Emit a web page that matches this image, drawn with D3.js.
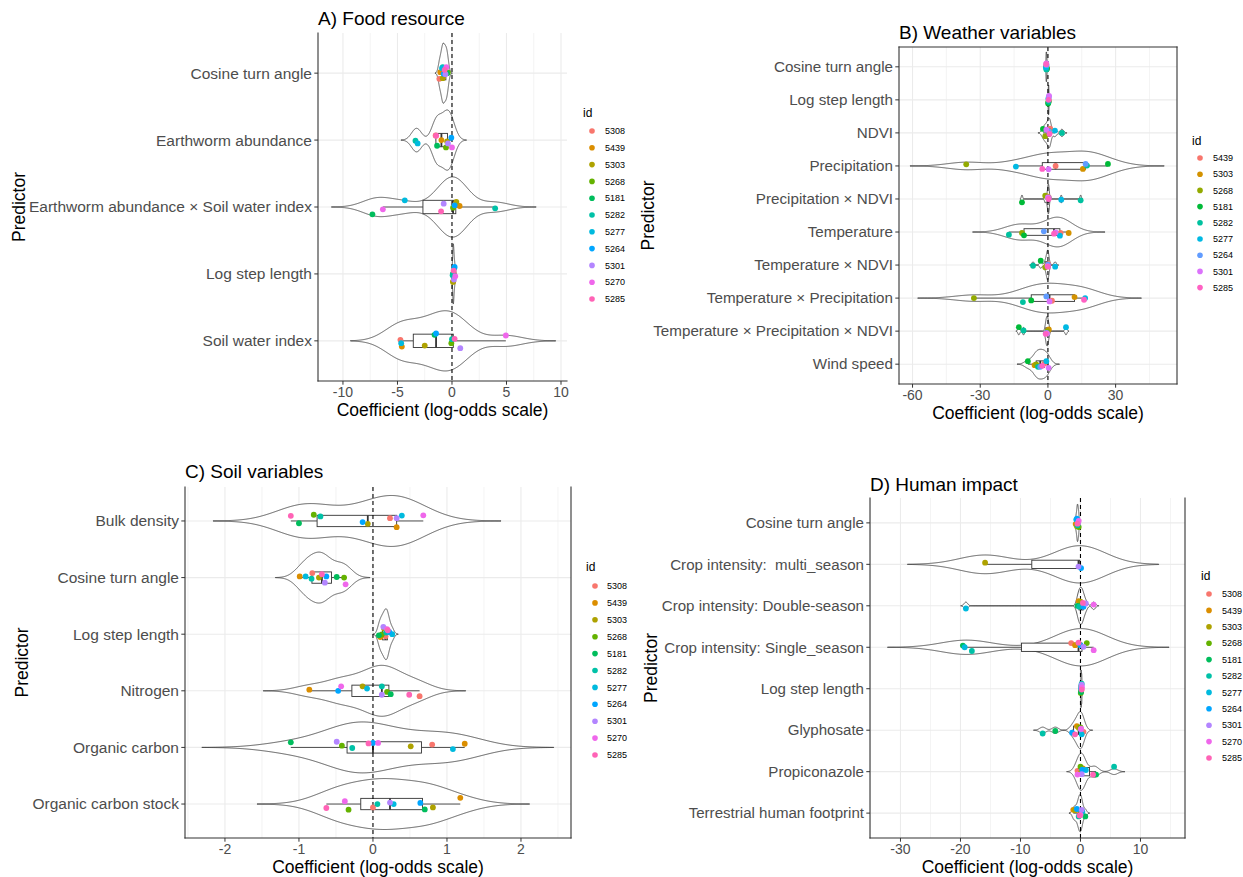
<!DOCTYPE html>
<html><head><meta charset="utf-8">
<script src="https://cdn.jsdelivr.net/npm/d3@7"></script>
<style>
body{margin:0;background:#fff}
svg{display:block}
text{font-family:"Liberation Sans",Arial,Helvetica,sans-serif;white-space:pre}
</style>
</head><body>
<svg id="c" width="1243" height="877"></svg>
<script>
// ================= DATA =================
const idsAll = ["5308","5439","5303","5268","5181","5282","5277","5264","5301","5270","5285"];
const idsB   = ["5439","5303","5268","5181","5282","5277","5264","5301","5285"];
const colors11 = ["#F8766D","#DB8E00","#AEA200","#64B200","#00BD5C","#00C1A7","#00BADE","#00A6FF","#B385FF","#EF67EB","#FF63B6"];
const colors9  = ["#F8766D","#D39200","#93AA00","#00BA38","#00C19F","#00B9E3","#619CFF","#DB72FB","#FF61C3"];

// ---- A) Food resource (columns follow idsAll) ----
const predictorsA = ["Cosine turn angle","Earthworm abundance","Earthworm abundance × Soil water index","Log step length","Soil water index"];
const valuesA = [
  [-1.16,-1.07,-0.85,-0.37,-0.46,-0.85,-0.91,-0.76,-0.60,-0.52,-0.67],
  [-1.50,-0.97,-0.45,-0.55,-1.37,-3.35,-3.15,-0.06,-0.37, 0.00,-1.45],
  [ 0.30, 0.70, 0.40, 0.10,-7.30, 3.96,-4.33, 0.24,-0.76,-6.34,-1.00],
  [ 0.15, 0.12, 0.09, 0.12, 0.09, 0.06, 0.21, 0.24, 0.18, 0.30, 0.15],
  [-4.73,-4.60,-2.50,-0.06,-1.60, 0.00,-4.66,-1.46, 0.76, 4.94, 0.24]
];
const jitterA = [
  [0.085,-0.015,0.075,-0.01,0,-0.09,-0.075,0.01,0.015,-0.09,-0.05],
  [-0.07,0,0.02,0.11,0.085,0.01,0.05,-0.035,0.05,0.11,-0.065],
  [-0.04,-0.015,-0.075,0.01,0.11,0.02,-0.1,-0.025,-0.05,0.035,0.065],
  [-0.015,0.11,0.12,0.01,0,0.02,-0.09,-0.105,0.085,0.035,-0.05],
  [-0.015,0.085,0.07,0.035,-0.09,-0.025,0.035,-0.11,0.11,-0.08,-0.03]
];
const xTicksA = [-10,-5,0,5,10];

// ---- B) Weather variables (columns follow idsB) ----
const predictorsB = ["Cosine turn angle","Log step length","NDVI","Precipitation","Precipitation × NDVI","Temperature","Temperature × NDVI","Temperature × Precipitation","Temperature × Precipitation × NDVI","Wind speed"];
const valuesB = [
  [-0.6,-0.8,-0.5,-0.4,-0.7,-0.9,-0.6,-0.7,-0.8],
  [0.4,0.3,0.2,0.1,0.3,0.2,0.4,0.5,0.3],
  [1.0,0.4,-1.2,-2.2,6.2,3.1,0.4,-0.7,0.7],
  [3.4,15.5,-36.2,26.6,17.3,-14.2,16.7,0.3,-2.5],
  [0.4,-0.3,-1.2,-11.5,14.5,5.9,0.3,0.0,0.3],
  [5.6,9.2,-11.5,-10.6,-17.3,5.3,-1.8,3.4,2.7],
  [0.2,-0.5,-1.2,-3.2,-6.6,3.2,0.0,-0.2,0.0],
  [1.8,11.8,-32.8,-7.4,-11.1,16.5,-0.7,0.7,16.0],
  [0.0,0.4,-0.3,-12.9,-10.8,8.0,-0.7,-0.4,-1.0],
  [-1.5,-5.9,-5.2,-8.9,-4.4,-0.7,-3.4,0.3,-2.5]
];
const jitterB = [
  [0.05,-0.02,0.03,0.06,0.08,0.02,-0.05,-0.1,-0.08],
  [0.02,0.05,0.08,0.11,0.06,-0.04,-0.1,-0.12,0.0],
  [-0.13,-0.07,0.1,-0.12,0,-0.07,-0.05,-0.1,0.03],
  [0,0.09,-0.05,-0.06,-0.01,0.02,-0.06,0.1,0.09],
  [-0.05,-0.08,-0.1,0.1,0.04,0.02,-0.03,-0.05,0],
  [0.03,0.03,0.03,0.1,0.08,0.11,-0.02,0.01,0.05],
  [-0.03,0.02,0.07,-0.13,0.02,0.05,-0.01,0.03,0.05],
  [0.08,-0.03,0,0.07,0.12,0,-0.05,0.1,0.05],
  [-0.02,-0.05,0,-0.12,-0.02,-0.12,0.05,0.07,0.08],
  [-0.02,0.03,0.01,-0.09,0.08,-0.09,0.08,0.11,0.05]
];
const xTicksB = [-60,-30,0,30];

// ---- C) Soil variables (columns follow idsAll) ----
const predictorsC = ["Bulk density","Cosine turn angle","Log step length","Nitrogen","Organic carbon","Organic carbon stock"];
const valuesC = [
  [0.23,0.32,-0.07,-0.80,-1.00,-0.71,0.39,-0.14,0.32,0.68,-1.11],
  [-0.82,-0.99,-0.73,-0.39,-0.49,-0.83,-0.91,-0.63,-0.65,-0.37,-0.69],
  [0.17,0.10,0.15,0.12,0.08,0.18,0.26,0.22,0.14,0.19,0.20],
  [0.63,-0.86,-0.14,0.19,0.24,0.12,-0.08,-0.47,0.12,-0.43,0.49],
  [0.80,1.24,0.51,-0.42,-1.11,-0.28,1.08,0.00,-0.49,0.07,-0.06],
  [0.00,1.18,0.81,-0.33,0.70,0.06,0.28,0.64,0.23,-0.38,-0.63]
];
const jitterC = [
  [-0.05,0.11,0.05,-0.11,0.04,-0.08,-0.095,0.02,-0.05,-0.1,-0.09],
  [-0.08,-0.02,0,0,-0.01,0.02,-0.02,-0.02,0.09,0.12,-0.06],
  [0.035,0.05,-0.1,0.005,0.02,-0.03,0,-0.04,-0.13,-0.09,-0.07],
  [0.095,-0.02,-0.08,0.02,0.06,-0.08,-0.04,0,0.07,-0.08,0.07],
  [-0.05,-0.065,-0.02,-0.03,-0.09,0.01,0.03,-0.08,-0.1,-0.08,-0.07],
  [0.06,-0.11,0.06,0.1,0.095,0,0,-0.02,-0.025,-0.05,0.07]
];
const xTicksC = [-2,-1,0,1,2];

// ---- D) Human impact (columns follow idsAll; null = no estimate) ----
const predictorsD = ["Cosine turn angle","Crop intensity:  multi_season","Crop intensity: Double-season","Crop intensity: Single_season","Log step length","Glyphosate","Propiconazole","Terrestrial human footprint"];
const valuesD = [
  [-0.5,-0.8,-0.6,-0.3,-0.4,-0.5,-0.7,-0.6,-0.4,-0.3,-0.5],
  [null,null,-15.9,null,null,null,null,0.1,-0.33,null,null],
  [0.1,-0.3,0.0,0.2,-0.5,-0.2,-19.1,0.5,0.9,2.2,0.4],
  [-1.55,-0.9,-0.2,1.05,-19.6,-18.1,-19.3,0.0,0.5,2.2,-0.33],
  [0.1,0.15,0.1,0.05,0.1,0.2,0.15,0.1,0.2,0.25,0.2],
  [0.5,-0.6,-0.3,0.0,-4.2,-6.3,0.2,-1.4,0.05,0.1,-0.9],
  [-0.5,0.4,0.1,0.0,2.6,5.6,0.9,0.3,0.2,-0.5,2.1],
  [-0.3,-1.2,-0.9,0.05,0.8,-0.3,0.3,-0.6,0.2,0.0,-0.15]
];
const jitterD = [
  [0.05,0.03,0.08,0.1,-0.02,0.06,-0.08,-0.1,0,-0.05,0.02],
  [0,0,-0.04,0,0,0,0,0.09,0.055,0,0],
  [-0.08,-0.11,-0.1,-0.03,0,0.02,0.065,0.02,-0.055,-0.03,-0.07],
  [-0.1,-0.05,-0.07,-0.1,-0.04,0.09,0,-0.05,-0.01,0.07,-0.11],
  [-0.05,0.03,0.06,0.1,0.08,-0.12,-0.08,0,-0.1,-0.03,0.02],
  [0.04,-0.1,-0.06,-0.07,0.02,0.08,0.1,0.06,-0.02,-0.04,0.1],
  [-0.02,-0.08,0.02,-0.12,0.07,-0.12,-0.04,-0.05,0.06,0.07,0.07],
  [-0.06,-0.08,-0.07,0,0.08,0.08,-0.04,-0.1,-0.08,0.04,0.06]
];
const xTicksD = [-30,-20,-10,0,10];

// ================= LAYOUT =================
const panels = [
  {title:"A) Food resource", predictors:predictorsA, ids:idsAll, colors:colors11, values:valuesA, jitter:jitterA, ticks:xTicksA,
   x0:318, x1:567, y0:33, y1:381, domain:[-12.29,10.55], border:"lb", titleY:25, predX:25, labelSize:15.5,
   legend:{tx:583, ty:117, kx:592, lx:605, y0:131, step:16.8}},
  {title:"B) Weather variables", predictors:predictorsB, ids:idsB, colors:colors9, values:valuesB, jitter:jitterB, ticks:xTicksB,
   x0:899, x1:1177, y0:47, y1:384, domain:[-66.0,57.2], border:"lbrt", titleY:39, predX:654, labelSize:15.2,
   legend:{tx:1192, ty:145, kx:1200, lx:1213, y0:158, step:16.2}},
  {title:"C) Soil variables", predictors:predictorsC, ids:idsAll, colors:colors11, values:valuesC, jitter:jitterC, ticks:xTicksC,
   x0:185, x1:571, y0:487, y1:838, domain:[-2.54,2.676], border:"lbr", titleY:478, predX:28, labelSize:15.5,
   legend:{tx:586, ty:571, kx:595, lx:607, y0:586, step:16.9}},
  {title:"D) Human impact", predictors:predictorsD, ids:idsAll, colors:colors11, values:valuesD, jitter:jitterD, ticks:xTicksD,
   x0:870, x1:1185, y0:498, y1:838, domain:[-35.08,17.42], border:"lbr", titleY:491, predX:657, labelSize:15.1,
   legend:{tx:1201, ty:580, kx:1209, lx:1222, y0:594, step:16.4}}
];

// ================= HELPERS =================
function nrd0(x){
  const n=x.length, s=d3.deviation(x)||0;
  const iqr=d3.quantile(x,0.75)-d3.quantile(x,0.25);
  let lo=Math.min(s, iqr/1.34);
  if(!(lo>0)) lo = s || Math.abs(x[0]) || 1;
  return 0.9*lo*Math.pow(n,-0.2);
}
function kde(x,bw){
  const a=d3.min(x)-3*bw, b=d3.max(x)+3*bw, N=512;
  return d3.range(N).map(i=>{
    const t=a+(b-a)*i/(N-1);
    return [t, d3.mean(x,v=>Math.exp(-0.5*((t-v)/bw)**2))/(bw*Math.sqrt(2*Math.PI))];
  });
}

const svg=d3.select("#c");
const GRID="#EBEBEB", DARK="#333333", AXT="#4D4D4D";

panels.forEach(p=>{
  const g=svg.append("g");
  const x=d3.scaleLinear().domain(p.domain).range([p.x0,p.x1]);
  const y=d3.scalePoint().domain(p.predictors).range([p.y0,p.y1]).padding(0.6);
  const step=y.step();

  // grid
  const ms=p.ticks[1]-p.ticks[0];
  const minors=[p.ticks[0]-ms/2, ...p.ticks.map(t=>t+ms/2)].filter(v=>v>=p.domain[0]&&v<=p.domain[1]);
  g.selectAll(".mg").data(minors).join("line")
    .attr("x1",d=>x(d)).attr("x2",d=>x(d)).attr("y1",p.y0).attr("y2",p.y1)
    .attr("stroke",GRID).attr("stroke-width",0.6);
  g.selectAll(".Mg").data(p.ticks).join("line")
    .attr("x1",d=>x(d)).attr("x2",d=>x(d)).attr("y1",p.y0).attr("y2",p.y1)
    .attr("stroke",GRID).attr("stroke-width",1.1);
  g.selectAll(".hg").data(p.predictors).join("line")
    .attr("x1",p.x0).attr("x2",p.x1).attr("y1",d=>y(d)).attr("y2",d=>y(d))
    .attr("stroke",GRID).attr("stroke-width",1.1);

  // rows
  const rows=p.predictors.map((pred,i)=>{
    const pts=p.ids.map((id,j)=>({id, color:p.colors[j], v:p.values[i][j], jit:p.jitter[i][j]})).filter(d=>d.v!==null);
    return {pred, pts, vals:pts.map(d=>d.v)};
  });

  // violins
  rows.forEach(r=>{
    const bw=nrd0(r.vals);
    const dens=kde(r.vals,bw);
    const mx=d3.max(dens,d=>d[1]);
    const cy=y(r.pred), hw=0.45*step;
    const area=d3.area().x(d=>x(d[0])).y0(d=>cy+hw*d[1]/mx).y1(d=>cy-hw*d[1]/mx);
    g.append("path").attr("d",area(dens)).attr("fill","#fff").attr("stroke",DARK).attr("stroke-width",0.8);
  });

  // boxplots
  rows.forEach(r=>{
    const s=r.vals.slice().sort(d3.ascending);
    const q1=d3.quantile(s,0.25), med=d3.quantile(s,0.5), q3=d3.quantile(s,0.75), iqr=q3-q1;
    const lo=d3.min(s.filter(v=>v>=q1-1.5*iqr)), hi=d3.max(s.filter(v=>v<=q3+1.5*iqr));
    const cy=y(r.pred), bh=0.1*step;
    g.append("line").attr("x1",x(lo)).attr("x2",x(q1)).attr("y1",cy).attr("y2",cy).attr("stroke",DARK).attr("stroke-width",0.9);
    g.append("line").attr("x1",x(q3)).attr("x2",x(hi)).attr("y1",cy).attr("y2",cy).attr("stroke",DARK).attr("stroke-width",0.9);
    g.append("rect").attr("x",x(q1)).attr("y",cy-bh).attr("width",Math.max(0,x(q3)-x(q1))).attr("height",2*bh)
      .attr("fill","#fff").attr("stroke",DARK).attr("stroke-width",0.9);
    g.append("line").attr("x1",x(med)).attr("x2",x(med)).attr("y1",cy-bh).attr("y2",cy+bh).attr("stroke",DARK).attr("stroke-width",1.8);
  });

  // zero reference line
  g.append("line").attr("x1",x(0)).attr("x2",x(0)).attr("y1",p.y0).attr("y2",p.y1)
    .attr("stroke","#000").attr("stroke-width",1.1).attr("stroke-dasharray","4,3");

  // points
  rows.forEach(r=>{
    g.selectAll(null).data(r.pts).join("circle")
      .attr("cx",d=>x(d.v)).attr("cy",d=>y(r.pred)+d.jit*step).attr("r",2.9)
      .attr("fill",d=>d.color);
  });

  // borders / axis lines
  const bl=[];
  if(p.border.includes("l")) bl.push([p.x0,p.y0,p.x0,p.y1]);
  if(p.border.includes("b")) bl.push([p.x0,p.y1,p.x1,p.y1]);
  if(p.border.includes("r")) bl.push([p.x1,p.y0,p.x1,p.y1]);
  if(p.border.includes("t")) bl.push([p.x0,p.y0,p.x1,p.y0]);
  g.selectAll(".bd").data(bl).join("line")
    .attr("x1",d=>d[0]).attr("y1",d=>d[1]).attr("x2",d=>d[2]).attr("y2",d=>d[3])
    .attr("stroke",DARK).attr("stroke-width",1.1).attr("stroke-linecap","square");

  // x ticks
  g.selectAll(".xt").data(p.ticks).join("line")
    .attr("x1",d=>x(d)).attr("x2",d=>x(d)).attr("y1",p.y1).attr("y2",p.y1+3.7).attr("stroke",DARK).attr("stroke-width",1);
  g.selectAll(".xl").data(p.ticks).join("text")
    .attr("x",d=>x(d)).attr("y",p.y1+15.5).attr("text-anchor","middle")
    .attr("font-size",14).attr("fill",AXT).text(d=>String(d));
  // y ticks
  g.selectAll(".yt").data(p.predictors).join("line")
    .attr("x1",p.x0-3.7).attr("x2",p.x0).attr("y1",d=>y(d)).attr("y2",d=>y(d)).attr("stroke",DARK).attr("stroke-width",1);
  g.selectAll(".yl").data(p.predictors).join("text")
    .attr("x",p.x0-6).attr("y",d=>y(d)).attr("dy","0.35em").attr("text-anchor","end")
    .attr("font-size",p.labelSize).attr("fill",AXT).text(d=>d);

  // titles
  g.append("text").attr("x",p.x0).attr("y",p.titleY).attr("font-size",19).attr("fill","#000").text(p.title);
  g.append("text").attr("x",(p.x0+p.x1)/2).attr("y",p.y1+35).attr("text-anchor","middle")
    .attr("font-size",17.5).attr("fill","#000").text("Coefficient (log-odds scale)");
  g.append("text").attr("transform",`translate(${p.predX},${(p.y0+p.y1)/2}) rotate(-90)`)
    .attr("text-anchor","middle").attr("font-size",17.5).attr("fill","#000").text("Predictor");

  // legend
  const L=p.legend;
  g.append("text").attr("x",L.tx).attr("y",L.ty).attr("font-size",12).attr("fill","#000").text("id");
  const li=g.selectAll(".lg").data(p.ids).join("g");
  li.append("circle").attr("cx",L.kx).attr("cy",(d,i)=>L.y0+i*L.step).attr("r",2.8).attr("fill",(d,i)=>p.colors[i]);
  li.append("text").attr("x",L.lx).attr("y",(d,i)=>L.y0+i*L.step).attr("dy","0.35em")
    .attr("font-size",9).attr("fill","#000").text(d=>d);
});
</script>
</body></html>
